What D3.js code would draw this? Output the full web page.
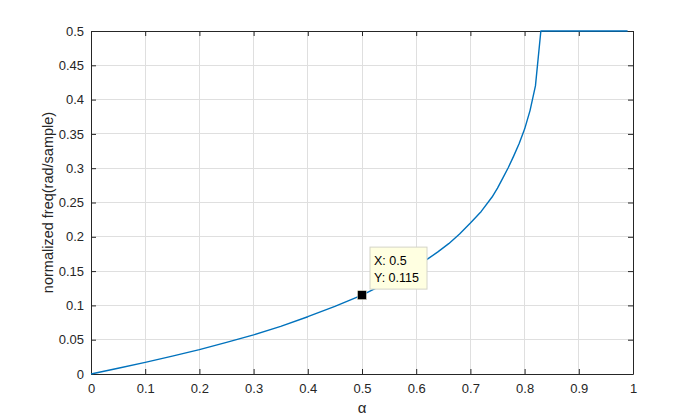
<!DOCTYPE html>
<html><head><meta charset="utf-8">
<script src="https://cdn.jsdelivr.net/npm/d3@7"></script>
<style>
body{margin:0;background:#fff;}
svg{display:block;}
text{font-family:"Liberation Sans",Arial,Helvetica,sans-serif;}
</style></head>
<body>
<script>
// alpha values and normalized frequency
const alpha = [0,0.05,0.1,0.15,0.2,0.25,0.3,0.35,0.4,0.45,0.5,0.55,0.6,0.62,0.64,0.66,0.68,0.7,0.72,0.74,0.75,0.76,0.77,0.78,0.79,0.8,0.81,0.82,0.83,0.84,0.9,0.95,0.99];
const freq  = [0,0.0083,0.017,0.026,0.0355,0.046,0.057,0.0695,0.0835,0.0985,0.115,0.1345,0.157,0.167,0.178,0.190,0.204,0.220,0.237,0.258,0.271,0.286,0.301,0.318,0.336,0.357,0.384,0.42,0.5,0.5,0.5,0.5,0.5];
const xTicks = [0,0.1,0.2,0.3,0.4,0.5,0.6,0.7,0.8,0.9,1];
const yTicks = [0,0.05,0.1,0.15,0.2,0.25,0.3,0.35,0.4,0.45,0.5];
const tipX = 0.5, tipY = 0.115;
const xLabel = "α", yLabel = "normalized freq(rad/sample)";

(function(){
const W = 700, H = 420;
const m = {left:91, right:67, top:31, bottom:46};
const svg = d3.select("body").append("svg").attr("width",W).attr("height",H);
const x = d3.scaleLinear().domain([0,1]).range([m.left, W-m.right]);
const y = d3.scaleLinear().domain([0,0.5]).range([H-m.bottom, m.top]);
const axisCol = "#262626";

// grid
const g = svg.append("g");
g.selectAll(".gx").data(xTicks.slice(1,-1)).enter().append("line")
  .attr("x1",d=>x(d)).attr("x2",d=>x(d)).attr("y1",y(0)).attr("y2",y(0.5))
  .attr("stroke","#dfdfdf").attr("stroke-width",1).attr("shape-rendering","crispEdges");
g.selectAll(".gy").data(yTicks.slice(1,-1)).enter().append("line")
  .attr("y1",d=>y(d)).attr("y2",d=>y(d)).attr("x1",x(0)).attr("x2",x(1))
  .attr("stroke","#dfdfdf").attr("stroke-width",1).attr("shape-rendering","crispEdges");

// axes
function styleAxis(sel){
  sel.select(".domain").attr("stroke",axisCol);
  sel.selectAll(".tick line").attr("stroke",axisCol);
  sel.selectAll(".tick text").attr("fill",axisCol).attr("font-size","13px")
    .attr("font-family","'Liberation Sans',Arial,sans-serif");
}
const fmt = d=>d3.format("~g")(d);
const axB = svg.append("g").attr("transform",`translate(0,${y(0)})`)
  .call(d3.axisBottom(x).tickValues(xTicks).tickFormat(fmt).tickSizeInner(-5).tickSizeOuter(0).tickPadding(10));
styleAxis(axB);
const axT = svg.append("g").attr("transform",`translate(0,${y(0.5)})`)
  .call(d3.axisTop(x).tickValues(xTicks).tickFormat("").tickSizeInner(-5).tickSizeOuter(0));
styleAxis(axT);
const axL = svg.append("g").attr("transform",`translate(${x(0)},0)`)
  .call(d3.axisLeft(y).tickValues(yTicks).tickFormat(fmt).tickSizeInner(-5).tickSizeOuter(0).tickPadding(7));
styleAxis(axL);
const axR = svg.append("g").attr("transform",`translate(${x(1)},0)`)
  .call(d3.axisRight(y).tickValues(yTicks).tickFormat("").tickSizeInner(-5).tickSizeOuter(0));
styleAxis(axR);

// line
const data = alpha.map((a,i)=>({a, f:freq[i]}));
svg.append("path").datum(data)
  .attr("fill","none").attr("stroke","#0072BD").attr("stroke-width",1.4)
  .attr("stroke-linejoin","round")
  .attr("d", d3.line().x(d=>x(d.a)).y(d=>y(d.f)));

// data tip
svg.append("rect").attr("x",x(tipX)-4.5).attr("y",y(tipY)-4.5).attr("width",9).attr("height",9)
  .attr("fill","#000").attr("stroke","#f5f5dc").attr("stroke-width",0.5);
const bx = x(tipX)+8, by = y(tipY)-48;
svg.append("rect").attr("x",bx).attr("y",by).attr("width",57).attr("height",42)
  .attr("fill","#ffffe1").attr("stroke","#d4d4c8").attr("stroke-width",1);
svg.append("text").attr("x",bx+4).attr("y",by+18).attr("font-size","12.5px").attr("fill","#000").text("X: "+tipX);
svg.append("text").attr("x",bx+4).attr("y",by+35).attr("font-size","12.5px").attr("fill","#000").text("Y: "+tipY);

// labels
svg.append("text").attr("x",x(0.5)).attr("y",413).attr("text-anchor","middle")
  .attr("font-family","'Liberation Serif','DejaVu Serif',serif").attr("font-size","15px").attr("fill",axisCol).text(xLabel);
svg.append("text").attr("transform",`translate(53,${(y(0)+y(0.5))/2}) rotate(-90)`)
  .attr("text-anchor","middle").attr("font-size","14.5px").attr("fill",axisCol).text(yLabel);
})();
</script>
</body></html>
